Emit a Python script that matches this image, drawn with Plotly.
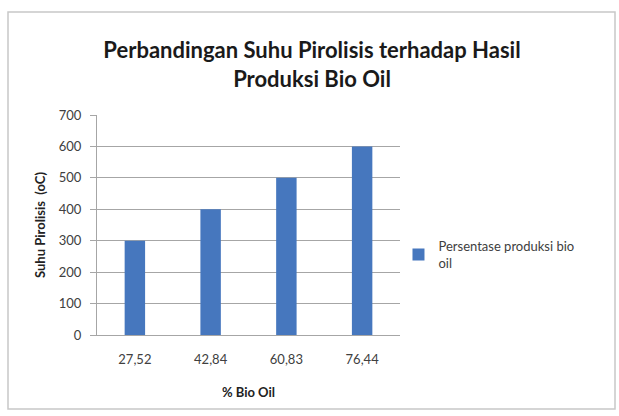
import plotly.graph_objects as go

categories = ["27,52", "42,84", "60,83", "76,44"]
values = [300, 400, 500, 600]
series_name = "Persentase produksi bio<br>oil"
y_ticks = [0, 100, 200, 300, 400, 500, 600, 700]

FONT = "Lato, 'Open Sans', sans-serif"

fig = go.Figure()
fig.add_trace(go.Bar(
    x=categories, y=values, name=series_name,
    marker=dict(color="#4677BE", line=dict(width=0)),
    showlegend=True,
))

fig.update_layout(
    width=619, height=416,
    margin=dict(l=97, r=219, t=115, b=81),
    paper_bgcolor="white", plot_bgcolor="white",
    bargap=0.73,
    font=dict(family=FONT, color="#404040", size=13),
    title=dict(
        text="<b>Perbandingan Suhu Pirolisis terhadap Hasil<br>Produksi Bio Oil</b>",
        x=312 / 619, xanchor="center", xref="container",
        y=1 - 58 / 416, yanchor="middle", yref="container",
        font=dict(family=FONT, size=22, color="#1a1a1a"),
    ),
    xaxis=dict(
        title=dict(text="<b>% Bio Oil</b>", font=dict(size=13, color="#222"), standoff=22),
        showline=True, linecolor="#a6a6a6", linewidth=1,
        showgrid=False, ticks="", ticklabelstandoff=12,
        tickfont=dict(size=13, color="#404040"),
    ),
    yaxis=dict(
        title=dict(text="<b>Suhu Pirolisis  (oC)</b>", font=dict(size=13, color="#222"), standoff=10),
        range=[0, 700], tickvals=y_ticks,
        showline=True, linecolor="#a6a6a6", linewidth=1,
        showgrid=True, gridcolor="#a6a6a6", gridwidth=1,
        ticks="outside", ticklen=6, tickcolor="#a6a6a6",
        ticklabelstandoff=6,
        tickfont=dict(size=13, color="#404040"),
        zeroline=False,
    ),
    legend=dict(
        x=0.995, xanchor="left", y=0.365, yanchor="middle",
        font=dict(size=13, color="#404040"),
        bgcolor="rgba(0,0,0,0)", itemwidth=30,
    ),
    shapes=[dict(
        type="rect", xref="paper", yref="paper",
        x0=(8 - 97) / 303, x1=(615 - 97) / 303,
        y0=(335 - 409) / 220, y1=(335 - 12) / 220,
        line=dict(color="#c8c8c8", width=1.5), layer="below",
    )],
)

fig.write_html("out.html")
